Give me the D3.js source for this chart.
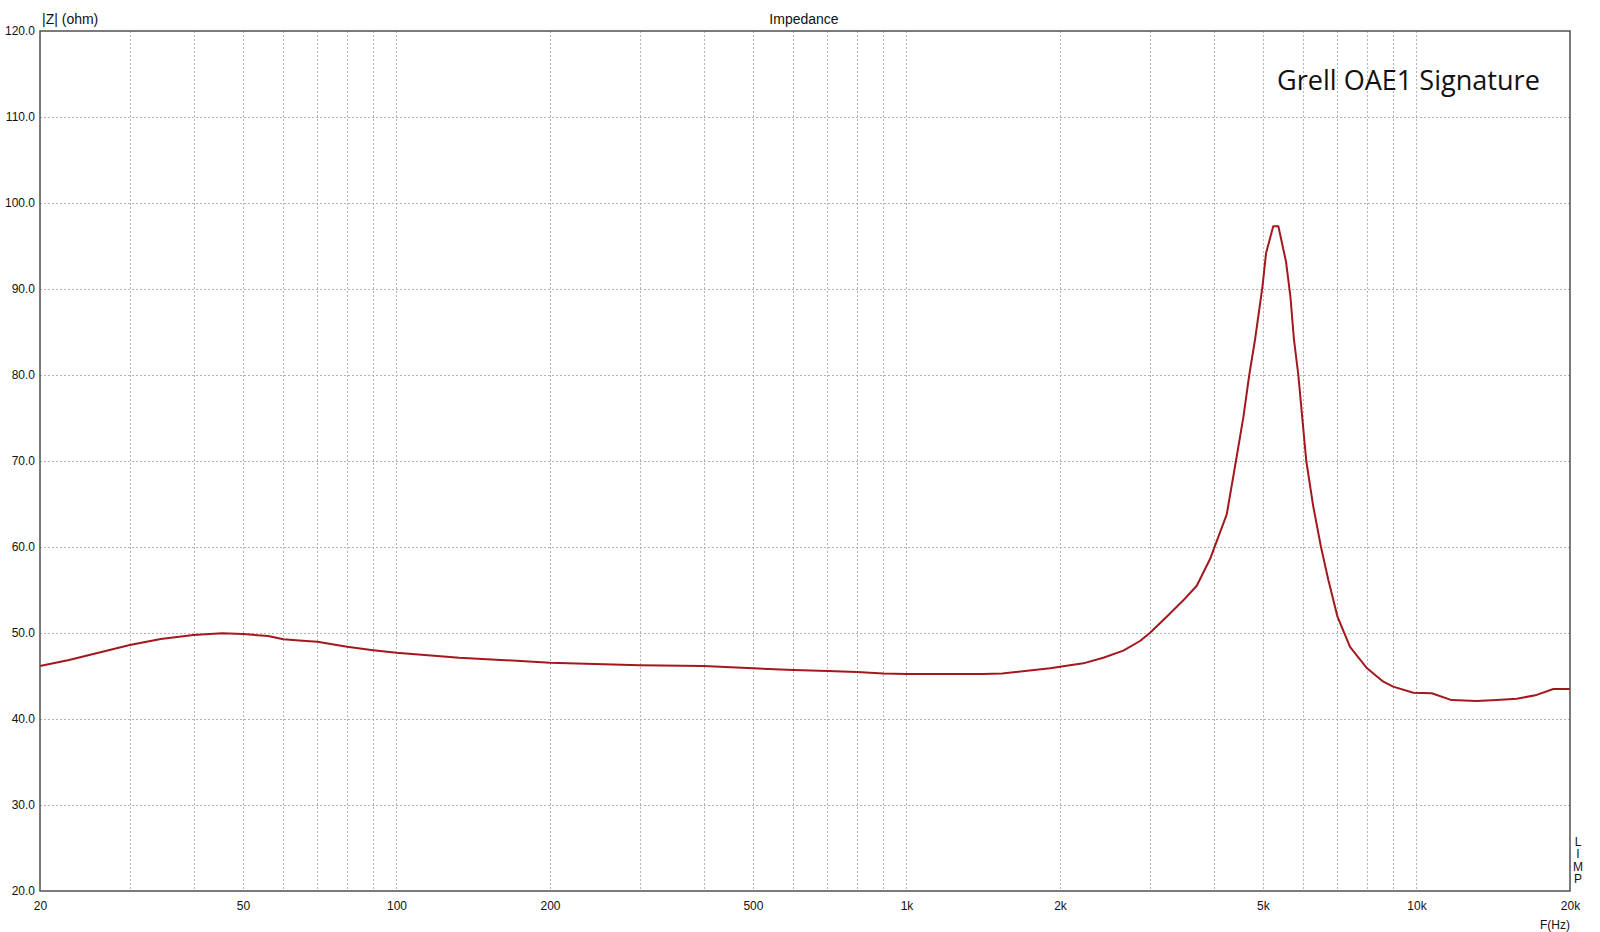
<!DOCTYPE html>
<html>
<head>
<meta charset="utf-8">
<script src="https://cdn.jsdelivr.net/npm/d3@7"></script>
<style>
  html, body { margin: 0; padding: 0; background: #fff; }
  svg { display: block; font-family: "Liberation Sans", Arial, sans-serif; }
</style>
</head>
<body>
<div id="chart"></div>
<script>
// Impedance curve
const freqHz = [20, 22.8, 30, 34.5, 40, 45.5, 50, 56, 60, 66.4, 70, 80, 90, 100, 132.7, 200,
  300, 400, 500, 600, 700, 800, 900, 1000, 1410, 1540, 1912, 2000, 2222, 2432, 2662, 2870,
  3000, 3238, 3490, 3708, 3938, 4246, 4426, 4577, 4700, 4824, 4990, 5070, 5238, 5360,
  5548, 5660, 5752, 5866, 6080, 6276, 6498, 6716, 7000, 7408, 8000, 8610, 9000, 9860,
  10712, 11720, 13120, 14370, 15730, 17210, 18550, 20000];
const impedanceOhm = [46.16, 46.86, 48.6, 49.3, 49.77, 49.96, 49.88, 49.65, 49.27, 49.07, 48.99, 48.4, 48.0, 47.7, 47.13, 46.55,
  46.26, 46.16, 45.9, 45.7, 45.58, 45.47, 45.3, 45.23, 45.23, 45.3, 45.9, 46.08, 46.47, 47.13, 47.95, 49.07,
  50.0, 51.9, 53.8, 55.5, 58.6, 63.8, 70.0, 75.1, 80.0, 84.1, 90.3, 94.15, 97.3, 97.3,
  93.2, 89.1, 84.1, 80.0, 70.0, 64.7, 60.0, 56.2, 51.9, 48.4, 45.9, 44.34, 43.76, 43.06,
  43.0, 42.2, 42.09, 42.2, 42.35, 42.8, 43.49, 43.49];

// axes
const gridFreqs = [30, 40, 50, 60, 70, 80, 90, 100, 200, 300, 400, 500, 600, 700, 800, 900,
  1000, 2000, 3000, 4000, 5000, 6000, 7000, 8000, 9000, 10000];
const xTickValues = [20, 50, 100, 200, 500, 1000, 2000, 5000, 10000, 20000];
const xTickLabels = ["20", "50", "100", "200", "500", "1k", "2k", "5k", "10k", "20k"];
const yTickValues = [20, 30, 40, 50, 60, 70, 80, 90, 100, 110, 120];

const W = 1600, H = 932;
const plot = { left: 40, right: 1570, top: 31, bottom: 891 };

const svg = d3.select("#chart").append("svg")
  .attr("width", W).attr("height", H)
  .attr("viewBox", `0 0 ${W} ${H}`);

const x = d3.scaleLog().domain([20, 20000]).range([plot.left, plot.right]);
const y = d3.scaleLinear().domain([20, 120]).range([plot.bottom, plot.top]);

// grid
const grid = svg.append("g")
  .attr("stroke", "#b4b4b4")
  .attr("stroke-width", 1)
  .attr("stroke-dasharray", "2,2");

grid.selectAll("line.v").data(gridFreqs).join("line")
  .attr("class", "v")
  .attr("x1", d => Math.round(x(d)) + 0.5).attr("x2", d => Math.round(x(d)) + 0.5)
  .attr("y1", plot.top).attr("y2", plot.bottom);

grid.selectAll("line.h").data(yTickValues.slice(1, -1)).join("line")
  .attr("class", "h")
  .attr("x1", plot.left).attr("x2", plot.right)
  .attr("y1", d => Math.round(y(d)) + 0.5).attr("y2", d => Math.round(y(d)) + 0.5);

// axes labels
const xAxis = svg.append("g")
  .attr("transform", `translate(0,${plot.bottom})`)
  .call(d3.axisBottom(x)
    .tickValues(xTickValues)
    .tickFormat((d, i) => xTickLabels[i])
    .tickSize(0)
    .tickPadding(10));
xAxis.select(".domain").remove();

const yAxis = svg.append("g")
  .attr("transform", `translate(${plot.left},0)`)
  .call(d3.axisLeft(y)
    .tickValues(yTickValues)
    .tickFormat(d3.format(".1f"))
    .tickSize(0)
    .tickPadding(5));
yAxis.select(".domain").remove();

svg.selectAll(".tick text")
  .attr("font-family", "'Liberation Sans', Arial, sans-serif")
  .attr("font-size", 12)
  .attr("fill", "#111");

// curve
const line = d3.line()
  .x((d, i) => x(freqHz[i]))
  .y(d => y(d));

svg.append("path")
  .datum(impedanceOhm)
  .attr("fill", "none")
  .attr("stroke", "#a3171e")
  .attr("stroke-width", 2)
  .attr("stroke-linejoin", "round")
  .attr("d", line);

// frame
svg.append("rect")
  .attr("x", plot.left).attr("y", plot.top)
  .attr("width", plot.right - plot.left).attr("height", plot.bottom - plot.top)
  .attr("fill", "none")
  .attr("stroke", "#505050")
  .attr("stroke-width", 1.5);

// texts
svg.append("text")
  .attr("x", 804).attr("y", 24)
  .attr("text-anchor", "middle")
  .attr("font-size", 14)
  .attr("fill", "#111")
  .text("Impedance");

svg.append("text")
  .attr("x", 42).attr("y", 24)
  .attr("font-size", 14)
  .attr("fill", "#111")
  .text("|Z| (ohm)");

svg.append("text")
  .attr("x", 1570).attr("y", 929)
  .attr("text-anchor", "end")
  .attr("font-size", 12)
  .attr("fill", "#111")
  .text("F(Hz)");

const limp = svg.append("text")
  .attr("font-size", 12)
  .attr("fill", "#111")
  .attr("text-anchor", "middle");
["L", "I", "M", "P"].forEach((c, i) => {
  limp.append("tspan").attr("x", 1578).attr("y", 846 + i * 12.4).text(c);
});

// device name, fitted to the width it takes in the original
const name = svg.append("text")
  .attr("x", 1277).attr("y", 90)
  .attr("font-family", "'Open Sans', 'Noto Sans', sans-serif")
  .attr("font-size", 26)
  .attr("fill", "#111")
  .text("Grell OAE1 Signature");
const len = name.node().getComputedTextLength();
if (len > 0) name.attr("font-size", 26 * 263 / len);
</script>
</body>
</html>
